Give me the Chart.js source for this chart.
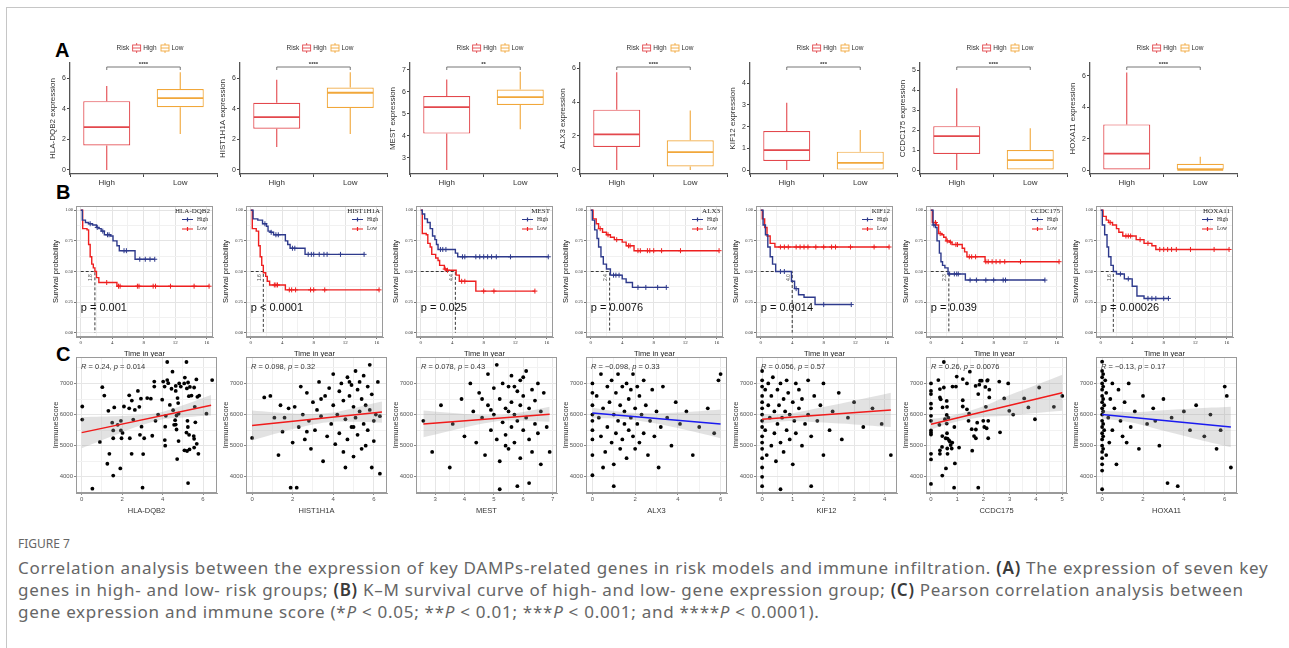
<!DOCTYPE html>
<html>
<head>
<meta charset="utf-8">
<script src="https://cdn.jsdelivr.net/npm/chart.js@4.4.1/dist/chart.umd.min.js"></script>
<style>
  body { margin: 0; width: 1289px; height: 648px; position: relative; overflow: hidden; background: #fff; font-family: "Liberation Sans", Arial, sans-serif; }
  #frame { position: absolute; left: 6px; top: 7px; width: 1400px; height: 800px; border: 1.5px solid #c6c6c6; }
  .tag { position: absolute; font: bold 20px "Liberation Sans", Arial, sans-serif; color: #000; line-height: 20px; }
  canvas { position: absolute; }
  .cap { position: absolute; left: 18px; color: #666; font-family: "Noto Sans", sans-serif; white-space: nowrap; }
  .cap b { color: #3a3a3a; font-weight: 600; }
</style>
</head>
<body>
<div id="frame"></div>
<div class="tag" style="left:55px;top:40px">A</div>
<div class="tag" style="left:56px;top:182px">B</div>
<div class="tag" style="left:56px;top:344px">C</div>
<div class="cap" style="top:535px;font-size:12px">FIGURE 7</div>
<div class="cap" style="top:557px;font-size:17px;line-height:22px;letter-spacing:0.72px">Correlation analysis between the expression of key DAMPs-related genes in risk models and immune infiltration. <b>(A)</b> The expression of seven key<br>genes in high- and low- risk groups; <b>(B)</b> K–M survival curve of high- and low- gene expression group; <b>(C)</b> Pearson correlation analysis between<br>gene expression and immune score (*<i>P</i> &lt; 0.05; **<i>P</i> &lt; 0.01; ***<i>P</i> &lt; 0.001; and ****<i>P</i> &lt; 0.0001).</div>

<script>
// ---- data ----
const genes = ['HLA-DQB2', 'HIST1H1A', 'MEST', 'ALX3', 'KIF12', 'CCDC175', 'HOXA11'];
const groups = ['High', 'Low'];

// boxplot stats per gene: [min, q1, median, q3, max]
const boxHigh = [[0, 1.6, 2.8, 4.5, 5.5], [1.5, 2.7, 3.45, 4.4, 5.9], [2.45, 4.1, 5.3, 5.8, 6.55],
  [0, 1.35, 2.1, 3.55, 5.75], [0, 0.42, 0.92, 1.8, 3.1], [0, 0.8, 1.7, 2.2, 4.1], [0, 0, 1.05, 2.9, 6.2]];
const boxLow = [[2.35, 4.1, 4.7, 5.3, 6.4], [2.35, 4.05, 5.05, 5.4, 6.4], [4.3, 5.4, 5.75, 6.1, 6.9],
  [0, 0.2, 1.05, 1.75, 3.5], [0, 0, 0.33, 0.85, 1.85], [0, 0, 0.5, 1.0, 2.1], [0, 0, 0.02, 0.4, 0.85]];
const signif = ['****', '****', '**', '****', '***', '****', '****'];
const boxYMin = [-0.27, -0.27, 2.27, -0.24, -0.18, -0.2, -0.25];
const boxYMax = [7.0, 7.0, 7.3, 6.3, 4.93, 5.37, 6.8];
const boxYStep = [2, 2, 1, 2, 1, 1, 2];

// Kaplan-Meier: event times and survival after each step
const kmHighT = [
  [0, 0.2, 0.6, 1.0, 1.5, 2.0, 2.3, 2.6, 3.0, 3.8, 4.1, 4.6, 4.9, 6.9],
  [0, 0.3, 0.9, 1.5, 2.0, 2.2, 2.5, 2.9, 4.4, 4.7, 5.0, 6.9],
  [0, 0.2, 0.5, 0.85, 1.2, 1.5, 1.8, 2.0, 2.2, 4.4, 4.7],
  [0, 0.2, 0.5, 0.8, 1.0, 1.3, 1.6, 2.0, 2.5, 4.0, 4.5, 5.3],
  [0, 0.3, 0.6, 0.9, 1.2, 1.5, 1.9, 3.9, 4.3, 4.8, 5.5, 6.9],
  [0, 0.3, 0.6, 0.8, 1.1, 1.3, 1.5, 1.8, 2.2, 4.4],
  [0, 0.2, 0.5, 0.8, 1.0, 1.3, 1.6, 2.0, 3.0, 4.0, 4.6, 5.5]
];
const kmHighS = [
  [1, 0.92, 0.90, 0.89, 0.88, 0.86, 0.85, 0.83, 0.80, 0.79, 0.75, 0.71, 0.67, 0.60],
  [1, 0.93, 0.92, 0.89, 0.87, 0.83, 0.82, 0.80, 0.75, 0.72, 0.69, 0.64],
  [1, 0.97, 0.93, 0.90, 0.85, 0.79, 0.76, 0.72, 0.68, 0.65, 0.62],
  [1, 0.92, 0.84, 0.77, 0.70, 0.62, 0.56, 0.52, 0.47, 0.44, 0.41, 0.37],
  [1, 0.88, 0.80, 0.70, 0.62, 0.56, 0.50, 0.42, 0.36, 0.31, 0.29, 0.23],
  [1, 0.88, 0.86, 0.75, 0.65, 0.58, 0.55, 0.53, 0.48, 0.43],
  [1, 0.88, 0.80, 0.70, 0.62, 0.55, 0.50, 0.48, 0.44, 0.38, 0.30, 0.28]
];
const kmHighEnd = [9.4, 14.4, 16.2, 9.6, 11.5, 14.5, 8.6];
const kmLowT = [
  [0, 0.25, 0.8, 1.0, 1.2, 1.4, 1.6, 1.8, 2.0, 2.3, 4.6],
  [0, 0.2, 0.7, 1.0, 1.2, 1.4, 1.6, 1.9, 2.1, 2.4, 4.4],
  [0, 0.2, 0.7, 0.9, 1.2, 1.4, 1.9, 2.2, 2.4, 3.0, 3.3, 4.5, 4.9, 7.0],
  [0, 0.3, 0.7, 1.0, 1.5, 2.0, 2.5, 3.0, 4.0, 4.5, 5.5],
  [0, 0.2, 0.5, 0.8, 1.2, 1.8],
  [0, 0.2, 0.7, 1.0, 1.4, 1.65, 1.95, 2.4, 2.7, 4.0, 4.3, 4.6, 6.9],
  [0, 0.3, 0.7, 1.0, 1.5, 2.0, 2.3, 2.8, 4.5, 5.5, 6.5, 7.0]
];
const kmLowS = [
  [1, 0.85, 0.84, 0.72, 0.62, 0.56, 0.53, 0.50, 0.45, 0.41, 0.38],
  [1, 0.85, 0.83, 0.71, 0.62, 0.55, 0.49, 0.46, 0.42, 0.39, 0.35],
  [1, 0.81, 0.80, 0.73, 0.70, 0.64, 0.61, 0.59, 0.55, 0.52, 0.51, 0.47, 0.42, 0.34],
  [1, 0.93, 0.89, 0.85, 0.82, 0.80, 0.78, 0.76, 0.74, 0.71, 0.67],
  [1, 0.93, 0.86, 0.79, 0.73, 0.70],
  [1, 0.90, 0.88, 0.81, 0.80, 0.78, 0.75, 0.74, 0.72, 0.69, 0.66, 0.62, 0.58],
  [1, 0.95, 0.92, 0.90, 0.88, 0.85, 0.82, 0.79, 0.76, 0.73, 0.71, 0.68]
];
const kmLowEnd = [16.3, 16.3, 14.5, 16.3, 16.3, 16.3, 16.3];
const censorHigh = [
  [1.2, 2.1, 2.8, 3.4, 3.6, 5.5, 5.8, 7.5, 8.2, 8.8, 9.4],
  [1.8, 2.6, 3.2, 3.5, 5.3, 5.6, 7.3, 7.7, 8.0, 8.7, 9.3, 9.7, 11.4, 14.4],
  [2.5, 2.8, 3.2, 5.3, 5.6, 7.0, 7.5, 8.0, 8.5, 9.0, 9.6, 11.4, 16.2],
  [2.9, 3.2, 3.6, 6.0, 7.0, 8.5, 9.6],
  [2.5, 3.0, 4.5, 8.0, 11.5],
  [0.4, 2.4, 3.0, 3.3, 3.5, 5.0, 5.8, 7.0, 8.0, 9.2, 9.5, 14.5],
  [2.5, 3.5, 6.0, 6.5, 7.0, 8.0, 8.6]
];
const censorLow = [
  [3.3, 4.8, 5.0, 7.2, 7.4, 9.2, 9.5, 11.4, 14.4, 16.3],
  [3.0, 3.2, 3.4, 4.9, 5.2, 5.7, 7.6, 8.0, 9.4, 16.3],
  [3.1, 3.4, 5.2, 5.6, 8.0, 9.3, 14.5],
  [1.2, 2.2, 3.3, 4.8, 5.0, 6.0, 6.3, 7.2, 7.5, 8.0, 9.0, 11.4, 16.3],
  [2.5, 3.0, 3.5, 4.5, 5.0, 5.5, 6.0, 7.0, 8.0, 9.0, 9.5, 11.4, 14.4, 16.3],
  [0.6, 1.2, 2.1, 2.5, 3.2, 3.4, 4.9, 5.2, 5.7, 7.0, 7.3, 7.8, 8.3, 8.8, 9.4, 11.4, 16.3],
  [1.2, 3.2, 3.5, 3.8, 5.0, 6.0, 7.5, 8.0, 8.5, 9.0, 9.6, 11.4, 14.4, 16.3]
];
const kmMedian = [1.8, 1.6, 4.4, 2.4, 4.0, 2.3, 1.6];
const kmPval = ['p = 0.001', 'p < 0.0001', 'p = 0.025', 'p = 0.0076', 'p = 0.0014', 'p = 0.039', 'p = 0.00026'];

// expression vs ImmuneScore
const ptsHLA = [[0.03,6260],[0.03,5840],[0.53,3620],[1.02,6880],[1.12,6610],[1.32,6120],[1.37,4740],[1.27,4420],[0.9,5120],[1.51,5740],[1.56,5490],[1.61,6230],[1.56,5240],[1.56,4040],[1.78,5670],[1.91,4270],[1.94,5800],[1.94,5490],[1.97,5240],[2.02,5410],[2.09,6260],[2.35,6620],[2.35,6200],[2.38,5240],[2.47,4740],[2.48,6450],[2.55,5840],[2.63,6150],[2.78,6760],[2.85,6250],[2.88,5350],[2.93,6510],[2.96,5610],[3.01,3650],[3.04,4730],[3.09,5240],[3.24,6530],[3.42,6510],[3.49,5320],[3.59,7060],[3.59,6900],[3.65,5800],[3.78,6000],[3.98,6480],[4.03,7060],[4.10,6900],[4.11,5180],[4.13,5000],[4.13,5610],[4.16,5960],[4.23,7110],[4.23,7690],[4.28,7010],[4.36,6310],[4.44,6830],[4.49,7380],[4.52,6140],[4.57,5670],[4.62,5820],[4.65,5680],[4.69,5520],[4.69,5970],[4.65,6760],[4.65,6920],[4.72,4570],[4.74,6530],[4.77,6370],[4.79,6030],[4.79,5150],[4.82,7000],[4.90,6900],[5.07,7000],[5.08,4850],[5.10,7190],[5.18,5420],[5.18,7690],[5.20,6840],[5.21,4830],[5.23,5800],[5.25,5600],[5.26,7030],[5.26,3800],[5.30,6590],[5.31,5350],[5.33,4880],[5.35,6890],[5.43,6610],[5.54,5310],[5.56,5220],[5.56,4940],[5.56,6870],[5.59,6250],[5.62,5750],[5.67,7130],[5.69,5060],[5.72,6570],[5.77,4740],[5.81,6610],[6.17,6030],[6.45,7110]];
const ptsHIST = [[0.0,5250],[0.6,6550],[0.9,6600],[1.1,5900],[1.3,4700],[1.5,5450],[1.6,5900],[1.8,6200],[1.9,3650],[2.0,5100],[2.1,6250],[2.2,3650],[2.3,5600],[2.4,6900],[2.5,6000],[2.6,5200],[2.7,6700],[2.8,5800],[2.9,4900],[3.0,6400],[3.1,5500],[3.2,6150],[3.3,7050],[3.4,5950],[3.5,4500],[3.6,6600],[3.7,5300],[3.8,6850],[3.9,5700],[4.0,6300],[4.0,7300],[4.1,5050],[4.2,6000],[4.3,6750],[4.3,5400],[4.4,7000],[4.5,4800],[4.5,6450],[4.6,5850],[4.7,7200],[4.7,5200],[4.8,6600],[4.9,5600],[4.9,6950],[5.0,4650],[5.0,6250],[5.1,7400],[5.1,5900],[5.2,6800],[5.2,5350],[5.3,6100],[5.3,7050],[5.4,4900],[5.4,6500],[5.5,5700],[5.5,7250],[5.6,6300],[5.6,5000],[5.7,6900],[5.7,5500],[5.8,6150],[5.8,7600],[5.9,4300],[5.9,6650],[6.0,5800],[6.0,5150],[6.1,6000],[6.2,7050],[6.3,5950],[6.3,4100],[3.4,6500],[2.7,5450],[4.6,4300],[5.0,5600],[1.4,6300],[4.8,7050]];
const ptsMEST = [[2.6,5800],[2.9,4800],[3.2,6300],[3.5,4300],[3.6,5700],[3.9,6500],[4.0,5300],[4.2,7000],[4.3,6100],[4.4,5100],[4.5,6700],[4.6,5900],[4.7,4700],[4.8,6300],[4.8,7300],[4.9,5500],[5.0,6850],[5.0,6000],[5.1,5200],[5.1,7600],[5.2,6500],[5.2,4500],[5.3,5750],[5.3,7000],[5.4,6200],[5.4,5350],[5.5,6900],[5.5,4900],[5.6,6400],[5.6,5600],[5.6,7250],[5.7,6000],[5.7,5100],[5.8,6750],[5.8,3700],[5.8,5800],[5.9,7100],[5.9,6300],[5.9,4600],[6.0,5500],[6.0,6600],[6.1,5900],[6.1,7400],[6.2,5200],[6.2,6200],[6.3,6800],[6.3,4800],[6.4,5700],[6.4,6450],[6.5,7000],[6.5,5400],[6.6,6100],[6.6,4400],[6.7,6700],[6.8,5600],[6.9,4800],[5.2,3600],[4.9,6150],[5.4,5000],[5.7,6900],[6.0,7200],[6.2,3800],[5.5,6100],[4.6,6500]];
const ptsALX3 = [[0,7000],[0,6700],[0,6300],[0,6000],[0,5800],[0,5500],[0,5200],[0,4700],[0,4050],[0.2,6600],[0.3,5900],[0.4,7300],[0.4,5300],[0.5,6200],[0.6,4800],[0.7,6900],[0.7,5600],[0.8,6400],[0.9,5100],[0.9,7100],[1.0,6000],[1.0,4400],[1.1,6700],[1.1,5400],[1.2,7300],[1.2,5800],[1.3,6300],[1.3,4900],[1.4,6900],[1.4,5200],[1.5,6100],[1.5,5700],[1.6,7000],[1.6,4600],[1.7,6500],[1.7,5500],[1.8,5900],[1.8,6800],[1.9,5300],[1.9,7300],[2.0,6200],[2.0,4900],[2.1,5700],[2.2,6600],[2.2,5100],[2.3,6000],[2.4,5400],[2.4,7100],[2.5,6300],[2.6,4700],[2.7,5800],[2.8,6800],[2.9,5300],[3.0,6100],[3.1,4300],[3.2,5600],[3.3,6900],[3.5,5900],[3.7,5000],[3.9,6400],[4.1,5700],[4.4,6100],[4.7,4700],[5.0,5600],[5.4,6200],[5.7,5400],[6.0,7300],[5.9,7100],[2.1,6900],[1.0,3700],[0.5,4300]];
const ptsKIF12 = [[0,7400],[0,7100],[0,6900],[0,6600],[0,6400],[0,6200],[0,6000],[0,5800],[0,5600],[0,5300],[0,5100],[0,4900],[0,4600],[0,4300],[0,4000],[0,3700],[0.1,6800],[0.1,5500],[0.15,4700],[0.2,6300],[0.2,7000],[0.25,5900],[0.3,5000],[0.3,6600],[0.35,7200],[0.4,5400],[0.4,6100],[0.45,4500],[0.5,6800],[0.5,5700],[0.55,6300],[0.6,5100],[0.6,7000],[0.65,5900],[0.7,6500],[0.7,4800],[0.75,6100],[0.8,5500],[0.8,7100],[0.85,6700],[0.9,5200],[0.9,6000],[1.0,6400],[1.0,4400],[1.05,5800],[1.1,7000],[1.1,5400],[1.2,6200],[1.2,6800],[1.3,5000],[1.3,6500],[1.4,5700],[1.5,7100],[1.5,6000],[1.6,5300],[1.7,6600],[1.8,5800],[1.9,6300],[2.0,4700],[2.0,7000],[2.2,5500],[2.3,6100],[2.5,6700],[2.6,5200],[2.8,5900],[3.0,6400],[3.3,5600],[3.6,6200],[3.9,5700],[4.2,4700],[1.6,3700],[0.6,3600]];
const ptsCCDC = [[0,7000],[0,6760],[0,6660],[0,6350],[0,6200],[0,5960],[0,5800],[0,5490],[0,5420],[0,5360],[0,4740],[0,4560],[0,3770],[0.28,7110],[0.32,5670],[0.34,4740],[0.34,4850],[0.34,6550],[0.34,6820],[0.37,6490],[0.42,4960],[0.43,5310],[0.43,4040],[0.44,6230],[0.49,7690],[0.49,6870],[0.53,5850],[0.56,5240],[0.57,4270],[0.60,6440],[0.60,5990],[0.60,5710],[0.61,6250],[0.61,5400],[0.63,5230],[0.62,4910],[0.63,4740],[0.66,5900],[0.69,5170],[0.72,5130],[0.75,5020],[0.79,4910],[0.81,5100],[0.82,6900],[0.88,3650],[0.89,5600],[0.91,4430],[0.95,6900],[0.98,7220],[1.07,4940],[1.21,7140],[1.21,6460],[1.21,6260],[1.37,7000],[1.37,6170],[1.43,5800],[1.45,6030],[1.48,7380],[1.55,5530],[1.57,4840],[1.64,5310],[1.70,6920],[1.71,5240],[1.71,5520],[1.76,5740],[1.80,6660],[1.80,3650],[1.84,6960],[1.87,7090],[1.93,7090],[1.99,5800],[2.03,5600],[2.07,6890],[2.09,6250],[2.12,5560],[2.14,7090],[2.16,7110],[2.18,5240],[2.18,5800],[2.22,6550],[2.22,6800],[2.60,7060],[2.63,5430],[2.79,6520],[2.94,7000],[2.98,6120],[3.13,6000],[3.55,6520],[3.71,6230],[3.96,5850],[4.12,6870],[4.68,6250],[5.00,6600]];
const ptsHOXA = [[0,7700],[0,7400],[0,7200],[0,7000],[0,6800],[0,6600],[0,6400],[0,6200],[0,6000],[0,5800],[0,5600],[0,5400],[0,5200],[0,5000],[0,4800],[0,4600],[0,4400],[0,4200],[0,3600],[0.05,7300],[0.05,6900],[0.05,6500],[0.05,6100],[0.05,5700],[0.05,5300],[0.05,4900],[0.1,6300],[0.1,5500],[0.15,7100],[0.2,6700],[0.2,4700],[0.3,5900],[0.35,5100],[0.4,6500],[0.5,7000],[0.5,5500],[0.6,6200],[0.7,4400],[0.8,6800],[0.9,5800],[1.0,5300],[1.1,6400],[1.3,7000],[1.4,5600],[1.6,6100],[1.8,4900],[2.0,6600],[2.2,5700],[2.5,6200],[2.8,5000],[3.0,6500],[3.2,3800],[3.4,5900],[3.7,3700],[4.0,6100],[4.3,5500],[4.6,6300],[5.0,5300],[5.3,6000],[5.6,4900],[5.8,5500],[6.0,6900],[6.1,6600],[6.3,4300],[1.2,5100],[2.6,5800]];
const scatterPts = [ptsHLA, ptsHIST, ptsMEST, ptsALX3, ptsKIF12, ptsCCDC, ptsHOXA];

// fitted line and its confidence band
const fitX = [[0, 6.4], [0, 6.4], [2.6, 6.9], [0, 6], [0, 4.2], [0, 5], [0, 6.3]];
const fitY = [[5420, 6300], [5650, 6080], [5700, 6010], [6050, 5700], [5850, 6150], [5690, 6700], [6000, 5600]];
const bandX = [[0, 1, 2, 3, 3.8, 4.5, 5.5, 6.4], [0, 1, 2, 3, 4, 5, 6.4], [2.6, 3.5, 4.5, 5.3, 6, 6.9],
  [0, 1, 1.8, 3, 4, 5, 6], [0, 0.5, 1, 2, 3, 4.2], [0, 0.5, 1.2, 2, 3, 4, 5], [0, 0.5, 1.5, 3, 4.5, 6.3]];
const bandUp = [[5920, 5937, 5954, 5991, 6061, 6187, 6414, 6627], [6130, 6077, 6034, 6022, 6069, 6206, 6420],
  [6130, 6055, 5987, 5990, 6085, 6250], [6220, 6112, 6055, 6035, 6067, 6108, 6160],
  [6000, 6006, 6046, 6243, 6444, 6700], [5860, 5916, 6047, 6264, 6626, 6948, 7280], [6140, 6103, 6075, 6140, 6194, 6250]];
const bandLo = [[4920, 5177, 5434, 5671, 5821, 5887, 5934, 5967], [5170, 5357, 5534, 5682, 5769, 5766, 5740],
  [5270, 5475, 5687, 5800, 5805, 5770], [5880, 5872, 5835, 5715, 5567, 5408, 5240],
  [5700, 5766, 5796, 5743, 5684, 5600], [5520, 5666, 5817, 5924, 5966, 6048, 6120], [5860, 5833, 5735, 5480, 5234, 4950]];
const corrR = ['0.24', '0.098', '0.078', '\u22120.098', '0.056', '0.26', '\u22120.13'];
const corrP = ['0.014', '0.32', '0.43', '0.33', '0.57', '0.0076', '0.17'];
const scX = [[-0.28, 6.69, 2], [-0.3, 6.65, 2], [2.35, 7.15, 1], [-0.3, 6.3, 2], [-0.2, 4.4, 1], [-0.19, 5.18, 1], [-0.3, 6.6, 2]];
const scY = [3480, 7850];
const scYGrid = [3500, 4000, 4500, 5000, 5500, 6000, 6500, 7000, 7500];
const scYTicks = [4000, 5000, 6000, 7000];

// ---- styles ----
const HIGH_BOX = '#e3484d', LOW_BOX = '#f1a73a';
const KM_BLUE = '#2e3a8c', KM_RED = '#ee1f1f';
const SANS = '"Liberation Sans", Arial, sans-serif';
const SERIF = '"Liberation Serif", "DejaVu Serif", serif';
Chart.defaults.font.family = SANS;
Chart.defaults.animation = false;
Chart.defaults.responsive = false;
Chart.defaults.plugins.legend.display = false;
Chart.defaults.plugins.tooltip.enabled = false;

const onStep = (v, step) => Math.abs(v / step - Math.round(v / step)) < 1e-6;

function makeCanvas(left, top, w, h) {
  const c = document.createElement('canvas');
  c.width = w; c.height = h;
  c.style.left = left + 'px'; c.style.top = top + 'px';
  c.style.width = w + 'px'; c.style.height = h + 'px';
  document.body.appendChild(c);
  return c;
}

// whiskers, medians, significance bracket and the Risk legend
const boxExtras = {
  id: 'boxExtras',
  afterDatasetsDraw(chart, args, opts) {
    const { ctx, chartArea: a, scales: { y } } = chart;
    const bars = chart.getDatasetMeta(0).data;
    ctx.save();
    bars.forEach((bar, i) => {
      const s = opts.stats[i], col = opts.colors[i], half = bar.width / 2;
      ctx.strokeStyle = col;
      ctx.lineWidth = 1.1;
      ctx.beginPath();
      ctx.moveTo(bar.x, y.getPixelForValue(s[4])); ctx.lineTo(bar.x, y.getPixelForValue(s[3]));
      ctx.moveTo(bar.x, y.getPixelForValue(s[1])); ctx.lineTo(bar.x, y.getPixelForValue(s[0]));
      ctx.stroke();
      ctx.lineWidth = 1.8;
      ctx.beginPath();
      ctx.moveTo(bar.x - half + 0.6, y.getPixelForValue(s[2])); ctx.lineTo(bar.x + half - 0.6, y.getPixelForValue(s[2]));
      ctx.stroke();
    });
    // bracket
    const x0 = bars[0].x, x1 = bars[1].x, yb = a.top + 4;
    ctx.strokeStyle = '#666'; ctx.lineWidth = 0.9;
    ctx.beginPath();
    ctx.moveTo(x0, yb + 3); ctx.lineTo(x0, yb); ctx.lineTo(x1, yb); ctx.lineTo(x1, yb + 3);
    ctx.stroke();
    ctx.fillStyle = '#333'; ctx.font = 'bold 6px ' + SANS; ctx.textAlign = 'center'; ctx.textBaseline = 'bottom';
    ctx.fillText(opts.label, (x0 + x1) / 2, yb);
    // legend
    ctx.font = '6.5px ' + SANS; ctx.textBaseline = 'middle'; ctx.textAlign = 'left';
    const ly = 13;
    let lx = (a.left + a.right) / 2 - 27;
    ctx.fillStyle = '#333';
    ctx.fillText('Risk', lx, ly); lx += ctx.measureText('Risk').width + 3;
    ['High', 'Low'].forEach((t, i) => {
      ctx.strokeStyle = opts.colors[i]; ctx.lineWidth = 0.9;
      ctx.strokeRect(lx + 0.5, ly - 3, 8, 6);
      ctx.beginPath();
      ctx.moveTo(lx + 4.5, ly - 5); ctx.lineTo(lx + 4.5, ly - 3);
      ctx.moveTo(lx + 4.5, ly + 3); ctx.lineTo(lx + 4.5, ly + 5);
      ctx.moveTo(lx + 0.5, ly); ctx.lineTo(lx + 8.5, ly);
      ctx.stroke();
      lx += 11;
      ctx.fillStyle = '#333';
      ctx.fillText(t, lx, ly);
      lx += ctx.measureText(t).width + 4;
    });
    ctx.restore();
  }
};

// grey border round the plotting panel
const panelFrame = {
  id: 'panelFrame',
  afterDraw(chart) {
    const { ctx, chartArea: a } = chart;
    ctx.save();
    ctx.strokeStyle = '#9a9a9a'; ctx.lineWidth = 1;
    ctx.strokeRect(a.left + 0.5, a.top + 0.5, a.right - a.left - 1, a.bottom - a.top - 1);
    ctx.restore();
  }
};

// legend box, p value and median label on the survival panels
const kmExtras = {
  id: 'kmExtras',
  afterDatasetsDraw(chart, args, opts) {
    const { ctx, chartArea: a, scales: { x, y } } = chart;
    ctx.save();
    ctx.fillStyle = '#222'; ctx.textBaseline = 'middle';
    ctx.font = '7px ' + SERIF; ctx.textAlign = 'right';
    ctx.fillText(opts.gene, a.right - 3, a.top + 5);
    ctx.font = '5.5px ' + SERIF; ctx.textAlign = 'left';
    [['High', KM_BLUE], ['Low', KM_RED]].forEach(([t, c], i) => {
      const ly = a.top + 13.5 + i * 9.5;
      ctx.strokeStyle = c; ctx.lineWidth = 1.2;
      ctx.beginPath();
      ctx.moveTo(a.right - 31, ly); ctx.lineTo(a.right - 20, ly);
      ctx.moveTo(a.right - 25.5, ly - 2); ctx.lineTo(a.right - 25.5, ly + 2);
      ctx.stroke();
      ctx.fillStyle = '#222';
      ctx.fillText(t, a.right - 16, ly);
    });
    ctx.font = '11px ' + SANS; ctx.fillStyle = '#111';
    ctx.fillText(opts.pval, x.getPixelForValue(0), y.getPixelForValue(0.2));
    ctx.translate(x.getPixelForValue(opts.median) - 4, y.getPixelForValue(0.45));
    ctx.rotate(-Math.PI / 2);
    ctx.font = '5px ' + SANS; ctx.fillStyle = '#555'; ctx.textAlign = 'center';
    ctx.fillText(opts.median.toFixed(1), 0, 0);
    ctx.restore();
  }
};

// R and p text in the corner of each correlation panel
const corrText = {
  id: 'corrText',
  afterDatasetsDraw(chart, args, opts) {
    const { ctx, chartArea: a } = chart;
    ctx.save();
    ctx.fillStyle = '#333'; ctx.textBaseline = 'middle'; ctx.textAlign = 'left';
    let lx = a.left + 5;
    const ly = a.top + 10;
    [['R', true], [' = ' + opts.r + ', ', false], ['p', true], [' = ' + opts.p, false]].forEach(([t, it]) => {
      ctx.font = (it ? 'italic ' : '') + '7.5px ' + SANS;
      ctx.fillText(t, lx, ly);
      lx += ctx.measureText(t).width;
    });
    ctx.restore();
  }
};

function boxChart(g) {
  const c = makeCanvas(40 + 170 * g, 35, 185, 155);
  const step = boxYStep[g];
  new Chart(c, {
    type: 'bar',
    data: {
      labels: groups,
      datasets: [{
        data: [[boxHigh[g][1], boxHigh[g][3]], [boxLow[g][1], boxLow[g][3]]],
        backgroundColor: '#ffffff',
        borderColor: [HIGH_BOX, LOW_BOX],
        borderWidth: 1.2,
        borderSkipped: false,
        barPercentage: 0.64,
        categoryPercentage: 1
      }]
    },
    options: {
      layout: { padding: { left: 8, right: 8, top: 28, bottom: 2 } },
      scales: {
        x: {
          grid: { display: true, drawOnChartArea: false, tickLength: 3, color: '#444' },
          border: { color: '#555', width: 1.3 },
          ticks: { color: '#333', font: { size: 8 }, padding: 1, autoSkip: false },
          afterFit: s => { s.height = 14; }
        },
        y: {
          min: boxYMin[g], max: boxYMax[g],
          grid: { display: true, drawOnChartArea: false, tickLength: 3, color: '#444' },
          border: { color: '#555', width: 1.3 },
          ticks: { stepSize: step, includeBounds: false, autoSkip: false, color: '#333', font: { size: 7 }, padding: 1,
            callback: v => Math.round(v) },
          title: { display: true, text: genes[g] + ' expression', color: '#333', font: { size: 8 }, padding: 0 },
          afterFit: s => { s.width = 22; }
        }
      },
      plugins: {
        boxExtras: { stats: [boxHigh[g], boxLow[g]], colors: [HIGH_BOX, LOW_BOX], label: signif[g] }
      }
    },
    plugins: [boxExtras]
  });
}

function survAt(times, surv, t) {
  let s = surv[0];
  times.forEach((tt, i) => { if (tt <= t) s = surv[i]; });
  return s;
}

function kmChart(g) {
  const c = makeCanvas(45 + 170 * g, 200, 175, 160);
  const curve = (t, s, end) => t.map((v, i) => ({ x: v, y: s[i] })).concat([{ x: end, y: s[s.length - 1] }]);
  const marks = (cs, t, s) => cs.map(v => ({ x: v, y: survAt(t, s, v) }));
  const minorGrid = (ctx, major) => onStep(ctx.tick.value, major) ? '#e4e4e4' : '#f1f1f1';
  new Chart(c, {
    type: 'line',
    data: {
      datasets: [
        { data: curve(kmHighT[g], kmHighS[g], kmHighEnd[g]), borderColor: KM_BLUE, borderWidth: 1.4, stepped: true, pointRadius: 0 },
        { data: curve(kmLowT[g], kmLowS[g], kmLowEnd[g]), borderColor: KM_RED, borderWidth: 1.4, stepped: true, pointRadius: 0 },
        { type: 'scatter', data: marks(censorHigh[g], kmHighT[g], kmHighS[g]), pointStyle: 'cross', pointRadius: 2.5, borderColor: KM_BLUE, borderWidth: 1 },
        { type: 'scatter', data: marks(censorLow[g], kmLowT[g], kmLowS[g]), pointStyle: 'cross', pointRadius: 2.5, borderColor: KM_RED, borderWidth: 1 },
        { data: [{ x: 0, y: 0.5 }, { x: kmMedian[g], y: 0.5 }, { x: kmMedian[g], y: 0 }], borderColor: '#222', borderWidth: 0.9, borderDash: [3, 2], pointRadius: 0 }
      ]
    },
    options: {
      layout: { padding: { left: 6, right: 7, top: 6, bottom: 2 } },
      scales: {
        x: {
          type: 'linear', min: -0.6, max: 16.8,
          grid: { color: ctx => minorGrid(ctx, 4), tickLength: 2,
            tickColor: ctx => onStep(ctx.tick.value, 4) ? '#777' : 'rgba(0,0,0,0)' },
          border: { color: '#9a9a9a' },
          ticks: { stepSize: 2, includeBounds: false, autoSkip: false, color: '#333', font: { size: 5, family: SERIF }, padding: 1, maxRotation: 0,
            callback: v => onStep(v, 4) ? Math.round(v) : '' },
          title: { display: true, text: 'Time in year', color: '#222', font: { size: 7.5 }, padding: 0 },
          afterFit: s => { s.height = 21; }
        },
        y: {
          min: -0.035, max: 1.035,
          grid: { color: ctx => minorGrid(ctx, 0.25), tickLength: 2,
            tickColor: ctx => onStep(ctx.tick.value, 0.25) ? '#777' : 'rgba(0,0,0,0)' },
          border: { color: '#9a9a9a' },
          ticks: { stepSize: 0.125, includeBounds: false, autoSkip: false, color: '#333', font: { size: 4.5, family: SERIF }, padding: 1,
            callback: v => onStep(v, 0.25) ? v.toFixed(2) : '' },
          title: { display: true, text: 'Survival probability', color: '#222', font: { size: 7.5 }, padding: 0 },
          afterFit: s => { s.width = 25; }
        }
      },
      plugins: { kmExtras: { gene: genes[g], pval: kmPval[g], median: kmMedian[g] } }
    },
    plugins: [kmExtras, panelFrame]
  });
}

function scatterChart(g) {
  const c = makeCanvas(45 + 170 * g, 352, 180, 165);
  const [xmin, xmax, xstep] = scX[g];
  const neg = corrR[g].startsWith('\u2212');
  const band = (ys) => bandX[g].map((v, i) => ({ x: v, y: ys[i] }));
  new Chart(c, {
    type: 'scatter',
    data: {
      datasets: [
        { data: scatterPts[g].map(p => ({ x: p[0], y: p[1] })), backgroundColor: '#000', borderWidth: 0, pointRadius: 1.9, order: 3 },
        { type: 'line', data: band(bandUp[g]), borderWidth: 0, pointRadius: 0, fill: false, tension: 0.3, order: 2 },
        { type: 'line', data: band(bandLo[g]), borderWidth: 0, pointRadius: 0, fill: '-1', backgroundColor: 'rgba(160,160,160,0.3)', tension: 0.3, order: 2 },
        { type: 'line', data: fitX[g].map((v, i) => ({ x: v, y: fitY[g][i] })), borderColor: neg ? '#1b1bf0' : '#f01b1b', borderWidth: 1.5, pointRadius: 0, order: 1 }
      ]
    },
    options: {
      layout: { padding: { left: 6, right: 8, top: 5, bottom: 2 } },
      scales: {
        x: {
          type: 'linear', min: xmin, max: xmax,
          grid: { color: ctx => onStep(ctx.tick.value, xstep) ? '#e6e6e6' : '#f2f2f2',
            tickLength: 2, tickColor: ctx => onStep(ctx.tick.value, xstep) ? '#888' : 'rgba(0,0,0,0)' },
          border: { color: '#9a9a9a' },
          ticks: { stepSize: xstep / 2, includeBounds: false, autoSkip: false, color: '#555', font: { size: 6 }, padding: 1, maxRotation: 0,
            callback: v => onStep(v, xstep) ? Math.round(v) : '' },
          title: { display: true, text: genes[g], color: '#333', font: { size: 7.5 }, padding: 0 },
          afterFit: s => { s.height = 22; }
        },
        y: {
          type: 'linear', min: scY[0], max: scY[1],
          grid: { color: ctx => scYTicks.includes(ctx.tick.value) ? '#e6e6e6' : '#f2f2f2',
            tickLength: 2, tickColor: ctx => scYTicks.includes(ctx.tick.value) ? '#888' : 'rgba(0,0,0,0)' },
          border: { color: '#9a9a9a' },
          afterBuildTicks: s => { s.ticks = scYGrid.map(v => ({ value: v })); },
          ticks: { autoSkip: false, color: '#555', font: { size: 6 }, padding: 1,
            callback: v => scYTicks.includes(v) ? String(v) : '' },
          title: { display: true, text: 'ImmuneScore', color: '#333', font: { size: 7.5 }, padding: 0 },
          afterFit: s => { s.width = 25; }
        }
      },
      plugins: { corrText: { r: corrR[g], p: corrP[g] } }
    },
    plugins: [corrText, panelFrame]
  });
}

genes.forEach((_, g) => { boxChart(g); kmChart(g); scatterChart(g); });
</script>
</body>
</html>
